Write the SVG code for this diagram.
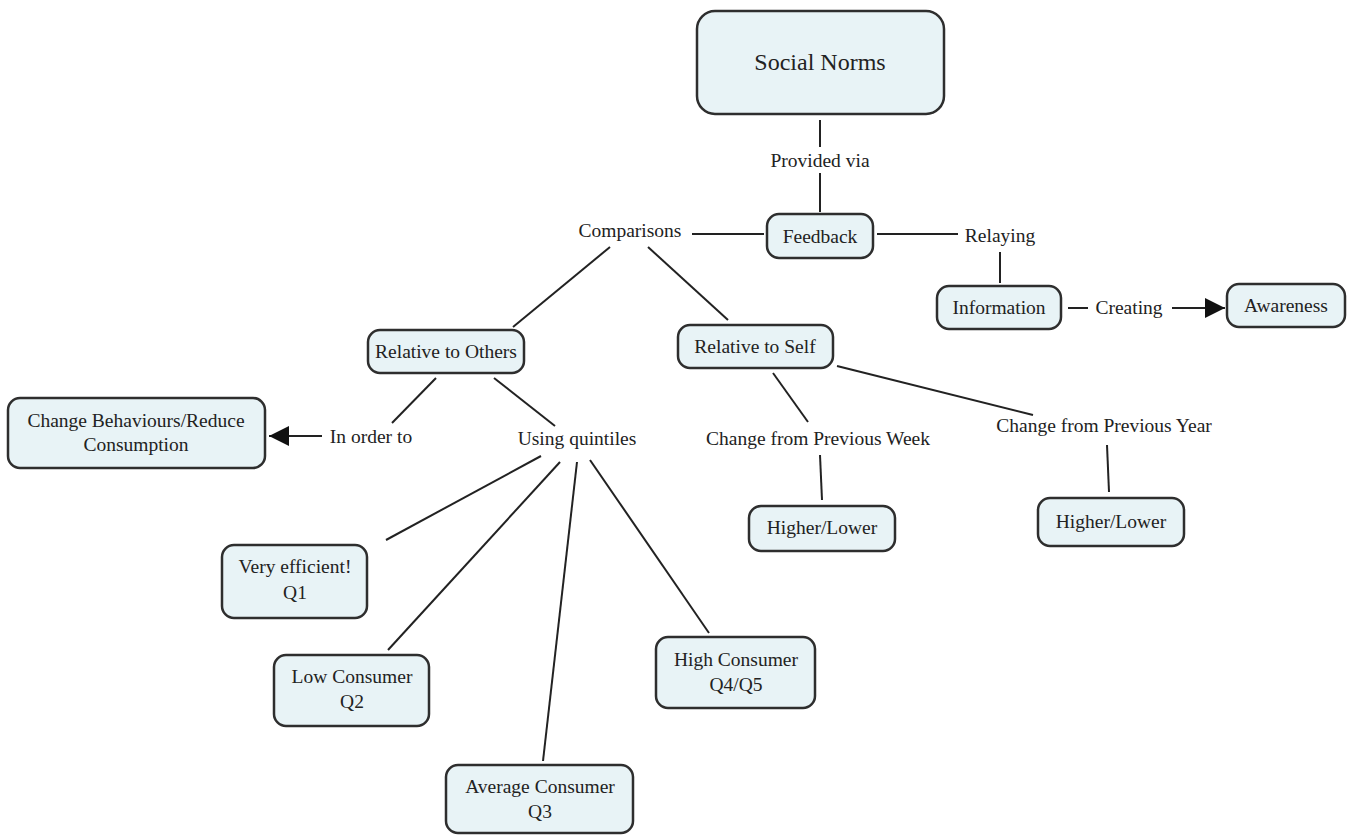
<svg xmlns="http://www.w3.org/2000/svg" width="1351" height="835" viewBox="0 0 1351 835">
<style>
.node rect{fill:#e8f3f6;stroke:#2e2e2e;stroke-width:2.5}
text{font-family:"Liberation Serif","Times New Roman",serif;font-size:19.5px;fill:#222;text-anchor:middle}
.big{font-size:24px}
#connectors line{stroke:#222;stroke-width:2;fill:none}
</style>
<defs>
<marker id="arr" markerUnits="userSpaceOnUse" markerWidth="22" markerHeight="20" refX="20" refY="10" orient="auto">
<path d="M0,0 L20,10 L0,20 Z" fill="#111"/>
</marker>
</defs>
<rect width="1351" height="835" fill="#fff"/>
<g id="connectors">
<line x1="820" y1="120" x2="820" y2="147"/>
<line x1="820" y1="173" x2="820" y2="212"/>
<line x1="692" y1="234" x2="764" y2="234"/>
<line x1="877" y1="234" x2="958" y2="234"/>
<line x1="1000" y1="252" x2="1000" y2="283"/>
<line x1="1068" y1="308" x2="1088" y2="308"/>
<line x1="1172" y1="308" x2="1225" y2="308" marker-end="url(#arr)"/>
<line x1="610" y1="247" x2="513" y2="327"/>
<line x1="648" y1="247" x2="728" y2="320"/>
<line x1="436" y1="378" x2="392" y2="423"/>
<line x1="322" y1="436" x2="269" y2="436" marker-end="url(#arr)"/>
<line x1="494" y1="378" x2="555" y2="426"/>
<line x1="541" y1="456" x2="386" y2="540"/>
<line x1="560" y1="462" x2="388" y2="650"/>
<line x1="577" y1="462" x2="543" y2="761"/>
<line x1="590" y1="460" x2="709" y2="633"/>
<line x1="773" y1="373" x2="808" y2="422"/>
<line x1="820" y1="455" x2="822" y2="500"/>
<line x1="837" y1="366" x2="1033" y2="415"/>
<line x1="1107" y1="445" x2="1109" y2="492"/>
</g>
<g id="labels">
<text x="820" y="167">Provided via</text>
<text x="630" y="237">Comparisons</text>
<text x="1000" y="242">Relaying</text>
<text x="1129" y="314">Creating</text>
<text x="371" y="443">In order to</text>
<text x="577" y="445">Using quintiles</text>
<text x="818" y="445">Change from Previous Week</text>
<text x="1104" y="432">Change from Previous Year</text>
</g>
<g id="social-norms" class="node"><rect x="697" y="11" width="247" height="103" rx="18"/><text class="big" x="820" y="70">Social Norms</text></g>
<g id="feedback" class="node"><rect x="767" y="214" width="106" height="44" rx="12"/><text x="820" y="243">Feedback</text></g>
<g id="information" class="node"><rect x="937" y="286" width="124" height="43" rx="12"/><text x="999" y="314">Information</text></g>
<g id="awareness" class="node"><rect x="1227" y="284" width="118" height="43" rx="12"/><text x="1286" y="312">Awareness</text></g>
<g id="relative-others" class="node"><rect x="368" y="330" width="156" height="43" rx="12"/><text x="446" y="358">Relative to Others</text></g>
<g id="relative-self" class="node"><rect x="678" y="325" width="155" height="43" rx="12"/><text x="755" y="353">Relative to Self</text></g>
<g id="change-behaviours" class="node"><rect x="8" y="398" width="257" height="70" rx="12"/><text x="136" y="427">Change Behaviours/Reduce</text><text x="136" y="451">Consumption</text></g>
<g id="q1" class="node"><rect x="222" y="545" width="145" height="73" rx="12"/><text x="295" y="573">Very efficient!</text><text x="295" y="599">Q1</text></g>
<g id="q2" class="node"><rect x="274" y="655" width="155" height="71" rx="12"/><text x="352" y="683">Low Consumer</text><text x="352" y="708">Q2</text></g>
<g id="q3" class="node"><rect x="446" y="765" width="187" height="68" rx="12"/><text x="540" y="793">Average Consumer</text><text x="540" y="818">Q3</text></g>
<g id="q45" class="node"><rect x="656" y="637" width="159" height="71" rx="12"/><text x="736" y="666">High Consumer</text><text x="736" y="691">Q4/Q5</text></g>
<g id="higher-lower-week" class="node"><rect x="749" y="506" width="146" height="45" rx="12"/><text x="822" y="534">Higher/Lower</text></g>
<g id="higher-lower-year" class="node"><rect x="1038" y="498" width="146" height="48" rx="12"/><text x="1111" y="528">Higher/Lower</text></g>
</svg>
